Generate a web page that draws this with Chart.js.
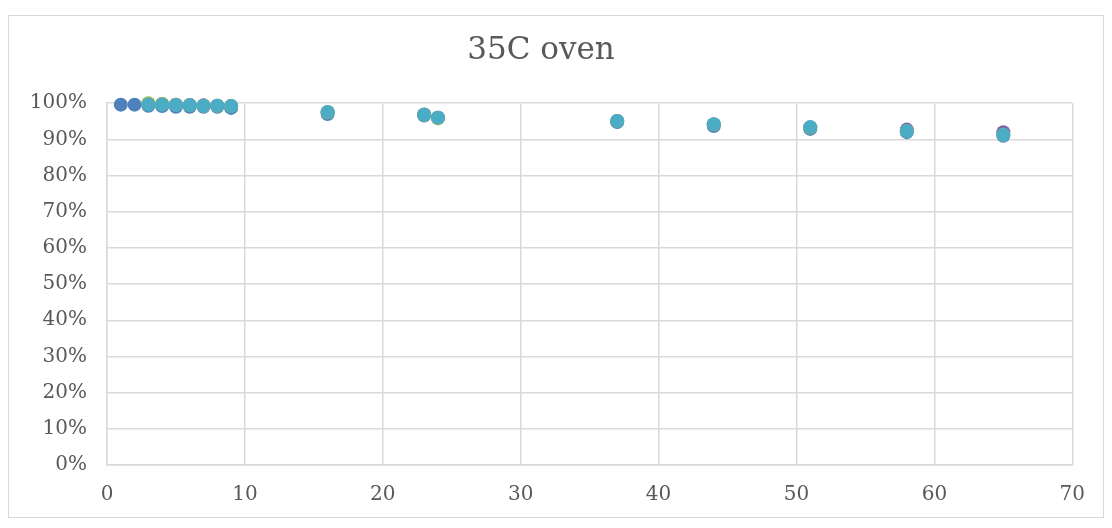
<!DOCTYPE html>
<html>
<head>
<meta charset="utf-8">
<script src="https://cdn.jsdelivr.net/npm/chart.js@4"></script>
<style>
    html, body { margin: 0; padding: 0; background: #fff; }
    #wrap {
        position: absolute;
        left: 8px; top: 15px;
        width: 1094px; height: 501px;
        border: 1px solid #d9d9d9;
    }
</style>
</head>
<body>
<div id="wrap"><canvas id="graphOven"></canvas></div>
<script>
// days in oven
var daysBlue = [1, 2, 3, 4, 5, 6, 7, 8, 9, 16, 23, 24, 37, 44, 51, 58, 65];
var daysOther = [3, 4, 5, 6, 7, 8, 9, 16, 23, 24, 37, 44, 51, 58, 65];

// % remaining, per sample
var sample1 = [99.6, 99.6, 99.3, 99.2, 99.0, 99.0, 99.0, 99.0, 98.7, 97.0, 96.6, 96.0, 94.8, 93.7, 92.9, 92.0, 91.0];
var sample2 = [99.8, 99.8, 99.6, 99.5, 99.4, 99.3, 99.2, 97.5, 96.9, 96.0, 95.1, 94.1, 93.3, 92.7, 92.0];
var sample3 = [100.0, 99.8, 99.6, 99.4, 99.3, 99.3, 99.2, 97.5, 96.8, 95.8, 95.1, 94.1, 93.3, 92.3, 91.3];
var sample4 = [99.6, 99.6, 99.5, 99.4, 99.3, 99.3, 99.2, 97.6, 96.8, 96.0, 95.1, 94.2, 93.4, 92.3, 91.3];

var yTicks = [0, 10, 20, 30, 40, 50, 60, 70, 80, 90, 100];

function pts(xs, ys) {
    return ys.map(function (v, i) { return { x: xs[i], y: v }; });
}

function ds(label, xs, ys, color, order) {
    return {
        label: label,
        data: pts(xs, ys),
        backgroundColor: color,
        borderColor: color,
        pointRadius: 7,
        pointHoverRadius: 7,
        borderWidth: 0,
        order: order,
        clip: false
    };
}

var txt = '#595959';
var grid = '#d9d9d9';
Chart.defaults.font.family = '"DejaVu Serif", serif';

new Chart(document.getElementById('graphOven').getContext('2d'), {
    type: 'scatter',
    data: {
        datasets: [
            ds('Sample 1', daysBlue, sample1, '#4f81bd', 4),
            ds('Sample 2', daysOther, sample2, '#8064a2', 3),
            ds('Sample 3', daysOther, sample3, '#9bbb59', 2),
            ds('Sample 4', daysOther, sample4, '#4bacc6', 1)
        ]
    },
    options: {
        responsive: true,
        maintainAspectRatio: false,
        animation: false,
        layout: {
            padding: { left: 0, right: 30, top: 0, bottom: 0 }
        },
        plugins: {
            legend: { display: false },
            tooltip: { enabled: false },
            title: {
                display: true,
                text: '35C oven',
                color: txt,
                font: { size: 31, weight: 'normal' },
                padding: { top: 16, bottom: 34 }
            }
        },
        scales: {
            x: {
                type: 'linear',
                min: 0,
                max: 70,
                ticks: { stepSize: 10, color: txt, font: { size: 20 }, padding: 18 },
                grid: { color: grid, lineWidth: 1.5, drawTicks: false },
                border: { color: grid, width: 1.5 },
                afterFit: function (s) { s.height = 52; }
            },
            y: {
                min: 0,
                max: 100,
                afterBuildTicks: function (s) {
                    s.ticks = yTicks.map(function (v) { return { value: v }; });
                },
                ticks: {
                    color: txt,
                    font: { size: 20 },
                    padding: 20,
                    callback: function (v) { return v + '%'; }
                },
                grid: { color: grid, lineWidth: 1.5, drawTicks: false },
                border: { color: grid, width: 1.5 },
                afterFit: function (s) { s.width = 98; }
            }
        }
    }
});
</script>
</body>
</html>
